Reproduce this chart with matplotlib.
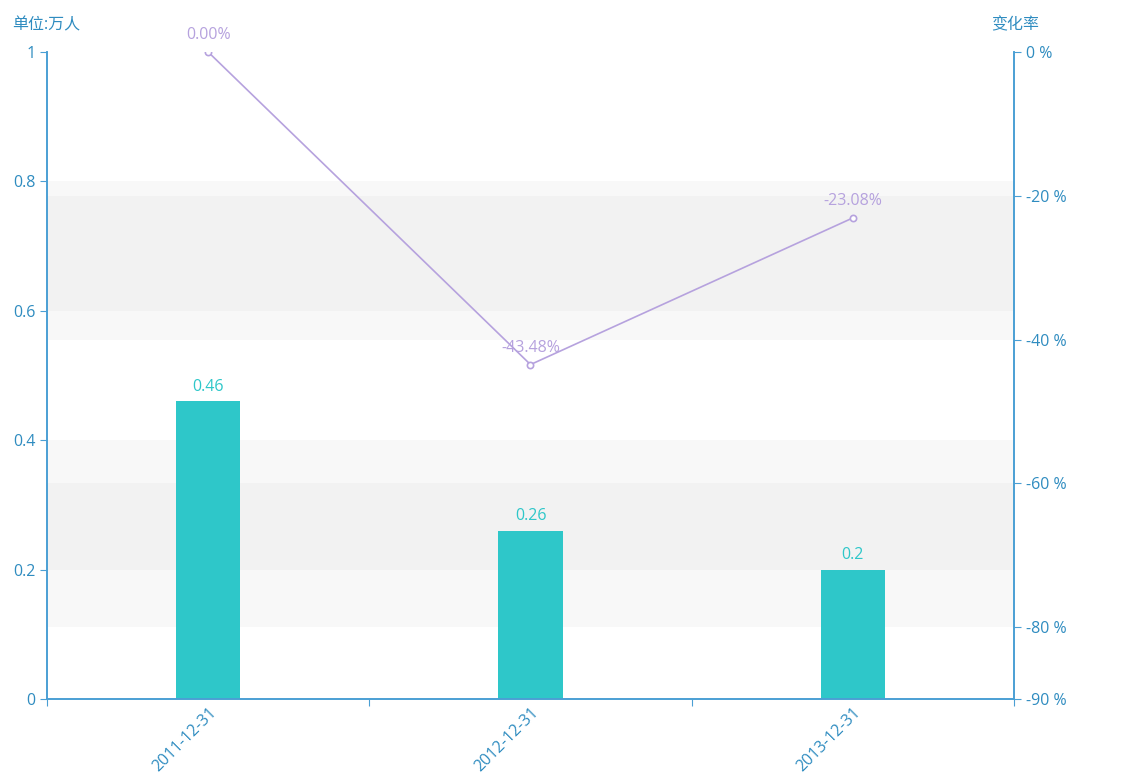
import matplotlib
matplotlib.use("Agg")
import matplotlib.pyplot as plt
import numpy as np

plt.rcParams['font.family'] = ['Open Sans', 'Noto Sans CJK SC', 'DejaVu Sans']

categories = ['2011-12-31', '2012-12-31', '2013-12-31']
values = [0.46, 0.26, 0.2]
value_labels = ['0.46', '0.26', '0.2']
rates = [0.00, -43.48, -23.08]
rate_labels = ['0.00%', '-43.48%', '-23.08%']
left_ticks = [0, 0.2, 0.4, 0.6, 0.8, 1]
left_tick_labels = ['0', '0.2', '0.4', '0.6', '0.8', '1']
right_ticks = [0, -20, -40, -60, -80, -90]
right_tick_labels = ['0 %', '-20 %', '-40 %', '-60 %', '-80 %', '-90 %']

bar_color = '#2ec7c9'
line_color = '#b6a2de'
axis_color = '#4a9fd4'
text_color = '#2f8cc0'
FS = 11.5

fig = plt.figure(figsize=(11.31, 7.78), dpi=100)
ax = fig.add_axes([47/1131, 79/778, 967/1131, 647/778])
ax2 = ax.twinx()

x = np.arange(len(categories))
ax.set_xlim(-0.5, len(categories) - 0.5)
ax.set_ylim(0, 1)
ax2.set_ylim(-90, 0)

# split areas (both axes' bands drawn beneath the bars)
band = '#b0b0b0'
for lo, hi in [(0.2, 0.4), (0.6, 0.8)]:
    ax.axhspan(lo, hi, color=band, alpha=0.08, lw=0, zorder=0)
r_lo, r_hi = ax2.get_ylim()
for lo, hi in [(-80, -60), (-40, -20)]:
    ax.axhspan((lo - r_lo) / (r_hi - r_lo), (hi - r_lo) / (r_hi - r_lo),
               color=band, alpha=0.08, lw=0, zorder=0)

ax.bar(x, values, width=0.2, color=bar_color, zorder=2)
for xi, v, lab in zip(x, values, value_labels):
    ax.text(xi, v + 0.01, lab, ha='center', va='bottom', color=bar_color, fontsize=FS, zorder=5)

ax2.plot(x, rates, color=line_color, lw=1.2, marker='o', markersize=4.5,
         markerfacecolor='white', markeredgecolor=line_color, markeredgewidth=1.2, zorder=4)
for xi, r, lab in zip(x, rates, rate_labels):
    ax2.text(xi, r + 1.2, lab, ha='center', va='bottom', color=line_color, fontsize=FS, zorder=5)

# spines
for a in (ax, ax2):
    a.spines['top'].set_visible(False)
    for s in ('left', 'right', 'bottom'):
        a.spines[s].set_color(axis_color)
        a.spines[s].set_linewidth(1.2)

ax.set_yticks(left_ticks)
ax.set_yticklabels(left_tick_labels)
ax2.set_yticks(right_ticks)
ax2.set_yticklabels(right_tick_labels)
ax.tick_params(axis='y', colors=axis_color, labelcolor=text_color, length=5, labelsize=FS)
ax2.tick_params(axis='y', colors=axis_color, labelcolor=text_color, length=5, labelsize=FS)

ax.set_xticks(np.arange(len(categories) + 1) - 0.5)
ax.set_xticklabels([])
ax.set_xticks(x, minor=True)
ax.set_xticklabels(categories, minor=True, rotation=45, ha='right', va='top',
                   rotation_mode='anchor', color=text_color, fontsize=FS)
ax.tick_params(axis='x', which='major', colors=axis_color, length=5)
ax.tick_params(axis='x', which='minor', length=0, pad=4)

fig.text(12/1131, 1 - 25/778, '单位:万人', ha='left', va='center', color=text_color, fontsize=FS)
fig.text(1015/1131, 1 - 25/778, '变化率', ha='center', va='center', color=text_color, fontsize=FS)

fig.savefig('out.png', dpi=100)
